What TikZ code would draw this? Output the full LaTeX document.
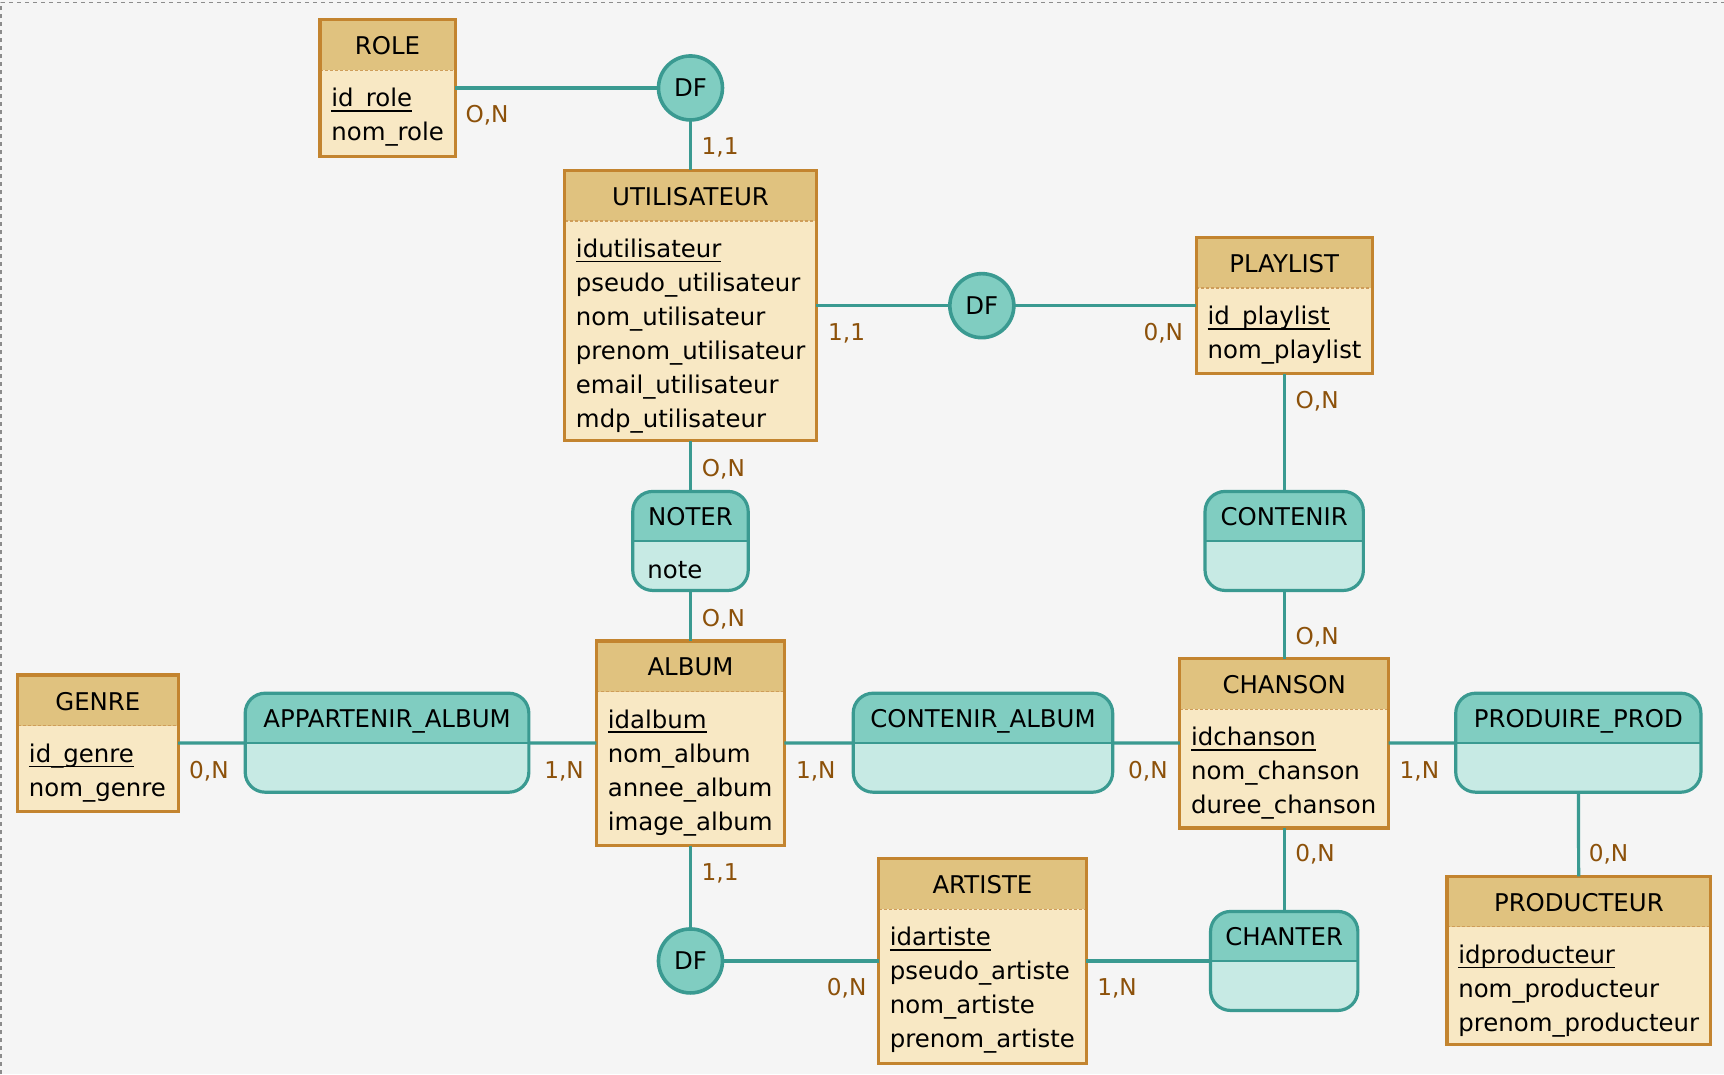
\documentclass[tikz,border=0pt]{standalone}
\usepackage{fontspec}
\setmainfont{DejaVu Sans}
\definecolor{fond}{HTML}{F5F5F5}
\definecolor{enttete}{HTML}{E0C27F}
\definecolor{entcorps}{HTML}{F8E8C4}
\definecolor{entbord}{HTML}{C3842F}
\definecolor{assotete}{HTML}{80CDC1}
\definecolor{assocorps}{HTML}{C7EAE4}
\definecolor{assobord}{HTML}{3A9A91}
\definecolor{card}{HTML}{8C510A}
\begin{document}
\begin{tikzpicture}[x=0.54975pt, y=-0.54975pt,
  entbox/.style={rectangle, fill=entcorps, inner sep=0pt, outer sep=0pt},
  enthead/.style={fill=enttete},
  entline/.style={draw=entbord, line width=1.6pt},
  entsep/.style={draw=entbord!80, line width=0.6pt, dash pattern=on 1.5pt off 1pt},
  assobox/.style={rectangle, rounded corners=10pt, fill=assocorps, inner sep=0pt, outer sep=0pt, minimum height=49.5pt},
  assohead/.style={fill=assotete},
  assoline/.style={draw=assobord, line width=1.6pt},
  dfrond/.style={circle, fill=assotete, draw=assobord, line width=1.8pt, inner sep=0pt, outer sep=0pt, minimum size=32pt, font=\fontsize{12.2}{14}\selectfont},
  titre/.style={inner sep=0pt, text height=11.2pt, text depth=1.5pt, font=\fontsize{12.2}{14}\selectfont},
  attr/.style={titre, anchor=west},
  card/.style={inner sep=0pt, text=card, text height=11.2pt, text depth=1.5pt, font=\fontsize{11.6}{14}\selectfont},
  lien/.style={draw=assobord, line width=1.6pt}
]
\def\px{0.54975pt}
\def\cle#1{\setbox0\hbox{#1}\rlap{\rule[-2.4pt]{\wd0}{0.8pt}}\box0}
% entite : nom, x, y, largeur, hauteur, titre, cle, autres attributs
\def\entite#1#2#3#4#5#6#7#8{%
  \pgfmathsetmacro\lw{#4*0.54975}%
  \pgfmathsetmacro\lh{#5*0.54975}%
  \node[entbox, minimum width=\lw pt, minimum height=\lh pt] (#1) at (#2,#3) {};
  \fill[enthead] (#1.north west) rectangle ([yshift=-46*\px]#1.north east);
  \draw[entsep] ([yshift=-46*\px]#1.north west) -- ([yshift=-46*\px]#1.north east);
  \draw[entline] (#1.north west) rectangle (#1.south east);
  \node[titre] (#1-t) at ([yshift=-23*\px]#1.north) {#6};
  \node[attr] (#1-a0) at ([xshift=10*\px, yshift=-70.5*\px]#1.north west) {\cle{#7}};
  \foreach \a [count=\i] in {#8}
    \node[attr] (#1-a\i) at ([xshift=10*\px, yshift=-(70.5+30.9*\i)*\px]#1.north west) {\a};
}
% association : nom, x, y, largeur, titre
\def\asso#1#2#3#4#5{%
  \pgfmathsetmacro\lw{#4*0.54975}%
  \node[assobox, minimum width=\lw pt] (#1) at (#2,#3) {};
  \begin{scope}
    \clip[rounded corners=10pt] (#1.south west) rectangle (#1.north east);
    \fill[assohead] (#1.west) rectangle (#1.north east);
  \end{scope}
  \draw[assobord, line width=1pt] (#1.west) -- (#1.east);
  \draw[assoline, rounded corners=10pt] (#1.south west) rectangle (#1.north east);
  \node[titre] (#1-t) at ([yshift=-22.5*\px]#1.north) {#5};
}

\useasboundingbox (0,0) rectangle (1568,977);
\fill[fond] (0,0) rectangle (1568,977);
\draw[gray!90, line width=0.6pt, dash pattern=on 2pt off 2pt] (1,977) -- (1,2) -- (1568,2);

% entites
\entite{role}{352.5}{80}{123}{124}{ROLE}{id\_role}{nom\_role}
\entite{util}{628}{278}{229}{246}{UTILISATEUR}{idutilisateur}{pseudo\_utilisateur, nom\_utilisateur, prenom\_utilisateur, email\_utilisateur, mdp\_utilisateur}
\entite{playlist}{1168}{278}{160}{124}{PLAYLIST}{id\_playlist}{nom\_playlist}
\entite{album}{628}{676}{171}{186}{ALBUM}{idalbum}{nom\_album, annee\_album, image\_album}
\entite{genre}{89}{676}{146}{124}{GENRE}{id\_genre}{nom\_genre}
\entite{chanson}{1168}{676}{190}{154}{CHANSON}{idchanson}{nom\_chanson, duree\_chanson}
\entite{producteur}{1436}{873.5}{240}{153}{PRODUCTEUR}{idproducteur}{nom\_producteur, prenom\_producteur}
\entite{artiste}{893.5}{874}{189}{186}{ARTISTE}{idartiste}{pseudo\_artiste, nom\_artiste, prenom\_artiste}

% associations
\asso{noter}{628}{492}{105}{NOTER}
\node[attr] (noter-a1) at ([xshift=13*\px, yshift=-70*\px]noter.north west) {note};
\asso{contenir}{1168}{492}{144}{CONTENIR}
\asso{appartenir}{352}{675.5}{258}{APPARTENIR\_ALBUM}
\asso{contalbum}{894}{675.5}{236}{CONTENIR\_ALBUM}
\asso{produire}{1435.5}{675.5}{223}{PRODUIRE\_PROD}
\asso{chanter}{1168}{874}{134}{CHANTER}

% dependances fonctionnelles
\node[dfrond] (df1) at (628,80) {DF};
\node[dfrond] (df2) at (893,278) {DF};
\node[dfrond] (df3) at (628,874) {DF};

% liens
\draw[lien] (role) -- (df1);
\draw[lien] (df1) -- (util);
\draw[lien] (util) -- (df2);
\draw[lien] (df2) -- (playlist);
\draw[lien] (playlist) -- (contenir);
\draw[lien] (contenir) -- (chanson);
\draw[lien] (util) -- (noter);
\draw[lien] (noter) -- (album);
\draw[lien] (genre) -- (appartenir);
\draw[lien] (appartenir) -- (album);
\draw[lien] (album) -- (contalbum);
\draw[lien] (contalbum) -- (chanson);
\draw[lien] (chanson) -- (produire);
\draw[lien] (produire) -- (producteur);
\draw[lien] (chanson) -- (chanter);
\draw[lien] (album) -- (df3);
\draw[lien] (df3) -- (artiste);
\draw[lien] (artiste) -- (chanter);

% cardinalites
\node[card] (k1) at (443,103) {O,N};
\node[card] (k2) at (655,132) {1,1};
\node[card] (k3) at (770,301) {1,1};
\node[card] (k4) at (1058,301) {0,N};
\node[card] (k5) at (1198,363) {O,N};
\node[card] (k6) at (658,425) {O,N};
\node[card] (k7) at (658,561) {O,N};
\node[card] (k8) at (1198,577) {O,N};
\node[card] (k9) at (190,699) {0,N};
\node[card] (k10) at (513,699) {1,N};
\node[card] (k11) at (742,699) {1,N};
\node[card] (k12) at (1044,699) {0,N};
\node[card] (k13) at (1291,699) {1,N};
\node[card] (k14) at (1463,775) {0,N};
\node[card] (k15) at (1196,775) {0,N};
\node[card] (k16) at (655,792) {1,1};
\node[card] (k17) at (770,897) {0,N};
\node[card] (k18) at (1016,897) {1,N};
\end{tikzpicture}
\end{document}
